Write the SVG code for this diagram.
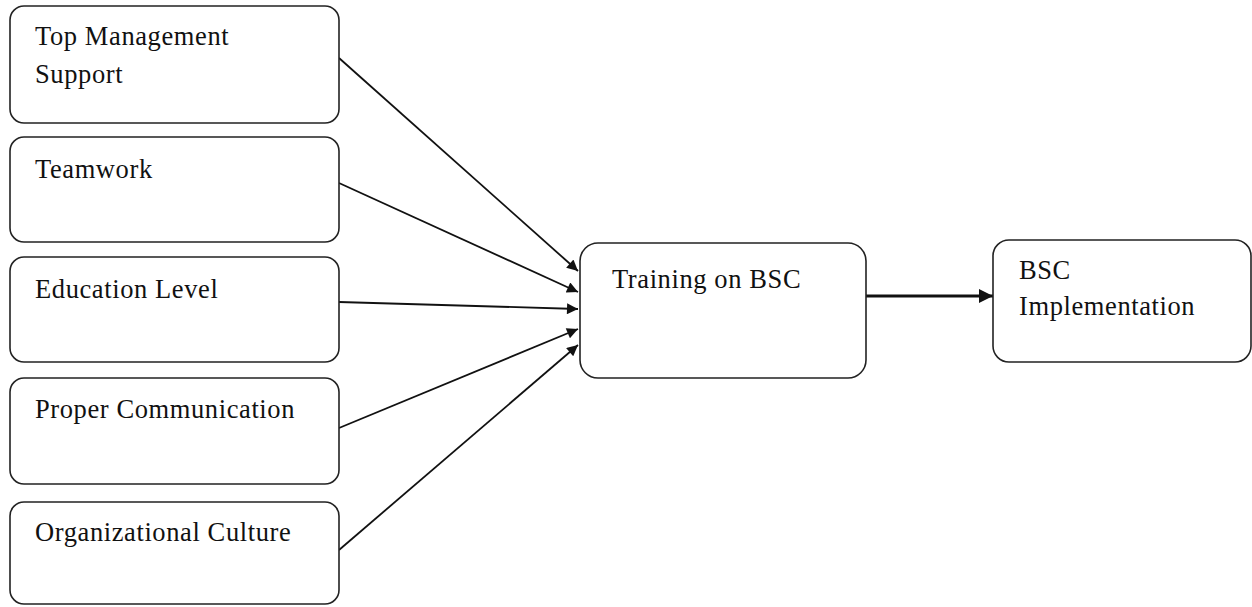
<svg xmlns="http://www.w3.org/2000/svg" width="1252" height="607" viewBox="0 0 1252 607">
  <style>
    .box { fill: #ffffff; stroke: #222222; stroke-width: 1.6; }
    .lbl { font-family: "Liberation Serif", "Times New Roman", serif; font-size: 26.5px; letter-spacing: 0.6px; fill: #111111; }
    .edge { stroke: #111111; stroke-width: 1.8; fill: none; marker-end: url(#arrow); }
    .edge-bold { stroke: #111111; stroke-width: 2.8; fill: none; marker-end: url(#arrow-bold); }
  </style>
  <defs>
    <marker id="arrow" viewBox="0 0 10 10" refX="10" refY="5" markerWidth="14" markerHeight="11" markerUnits="userSpaceOnUse" orient="auto">
      <path d="M0,0 L10,5 L0,10 Z" fill="#111111"/>
    </marker>
    <marker id="arrow-bold" viewBox="0 0 10 10" refX="10" refY="5" markerWidth="16" markerHeight="14" markerUnits="userSpaceOnUse" orient="auto">
      <path d="M0,0 L10,5 L0,10 Z" fill="#111111"/>
    </marker>
  </defs>
  <rect width="1252" height="607" fill="#ffffff"/>

  <g id="connectors">
    <line class="edge" x1="339" y1="58" x2="578" y2="271"/>
    <line class="edge" x1="339" y1="183" x2="578" y2="292"/>
    <line class="edge" x1="339" y1="302" x2="578" y2="309"/>
    <line class="edge" x1="339" y1="428" x2="578" y2="329"/>
    <line class="edge" x1="339" y1="550" x2="578" y2="345"/>
    <line class="edge-bold" x1="866" y1="296" x2="993" y2="296"/>
  </g>

  <g id="top-management-support">
    <rect class="box" x="10" y="6" width="329" height="117" rx="14"/>
    <text class="lbl" x="35" y="45">Top Management</text>
    <text class="lbl" x="35" y="83">Support</text>
  </g>

  <g id="teamwork">
    <rect class="box" x="10" y="137" width="329" height="105" rx="14"/>
    <text class="lbl" x="35" y="178">Teamwork</text>
  </g>

  <g id="education-level">
    <rect class="box" x="10" y="257" width="329" height="105" rx="14"/>
    <text class="lbl" x="35" y="298">Education Level</text>
  </g>

  <g id="proper-communication">
    <rect class="box" x="10" y="378" width="329" height="106" rx="14"/>
    <text class="lbl" x="35" y="418">Proper Communication</text>
  </g>

  <g id="organizational-culture">
    <rect class="box" x="10" y="502" width="329" height="102" rx="14"/>
    <text class="lbl" x="35" y="541">Organizational Culture</text>
  </g>

  <g id="training-on-bsc">
    <rect class="box" x="580" y="243" width="286" height="135" rx="18"/>
    <text class="lbl" x="612" y="288">Training on BSC</text>
  </g>

  <g id="bsc-implementation">
    <rect class="box" x="993" y="240" width="258" height="122" rx="16"/>
    <text class="lbl" x="1019" y="279">BSC</text>
    <text class="lbl" x="1019" y="315">Implementation</text>
  </g>
</svg>
